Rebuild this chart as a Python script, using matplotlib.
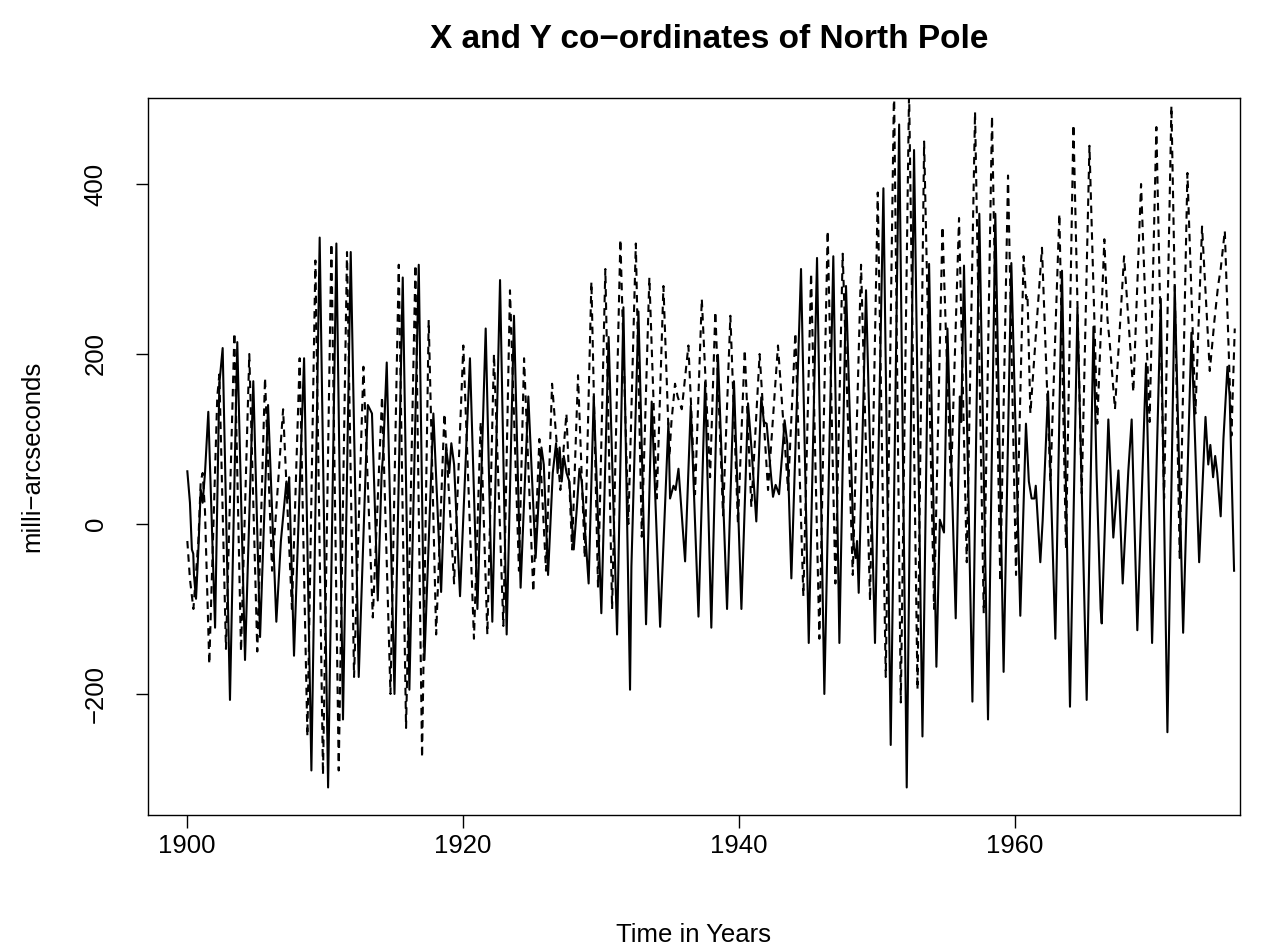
import matplotlib
matplotlib.use("Agg")
import matplotlib.pyplot as plt

# ---- data (turning points of each series) ----
x_years = [1900.02, 1900.21, 1900.35, 1900.45, 1900.50, 1900.65, 1900.82, 1900.99, 1901.13, 1901.30,
           1901.54, 1902.03, 1902.34, 1902.58, 1903.11, 1903.64, 1904.20, 1904.80, 1905.29, 1905.87,
           1906.47, 1906.80, 1907.20, 1907.30, 1907.40, 1907.75, 1908.48, 1909.01, 1909.61, 1910.22,
           1910.82, 1911.30, 1911.86, 1912.44, 1913.10, 1913.40, 1913.82, 1914.10, 1914.20, 1914.47,
           1915.03, 1915.63, 1916.11, 1916.79, 1917.20, 1917.85, 1918.41, 1918.77, 1919.00, 1919.15,
           1919.35, 1919.78, 1920.50, 1921.04, 1921.64, 1922.12, 1922.68, 1923.16, 1923.69, 1924.17,
           1924.73, 1925.26, 1925.45, 1925.68, 1925.85, 1926.16, 1926.50, 1926.74, 1926.85, 1927.00,
           1927.15, 1927.30, 1927.50, 1927.70, 1928.02, 1928.25, 1928.43, 1928.60, 1929.10, 1929.47,
           1930.02, 1930.55, 1931.16, 1931.62, 1932.10, 1932.20, 1932.71, 1933.26, 1933.67, 1934.28,
           1934.88, 1935.00, 1935.25, 1935.40, 1935.61, 1936.09, 1936.50, 1937.06, 1937.54, 1937.99,
           1938.47, 1939.13, 1939.63, 1940.17, 1940.65, 1940.90, 1941.25, 1941.61, 1941.80, 1942.00,
           1942.30, 1942.46, 1942.65, 1942.90, 1943.18, 1943.30, 1943.50, 1943.79, 1944.49, 1945.05,
           1945.65, 1946.18, 1946.83, 1947.27, 1947.75, 1948.30, 1948.45, 1948.55, 1948.67, 1949.00,
           1949.20, 1949.85, 1950.46, 1950.99, 1951.60, 1952.15, 1952.68, 1953.29, 1953.77, 1954.30,
           1954.55, 1954.85, 1955.10, 1955.70, 1956.00, 1956.10, 1956.30, 1956.91, 1957.41, 1958.04,
           1958.57, 1959.17, 1959.73, 1960.38, 1960.79, 1961.00, 1961.20, 1961.40, 1961.50, 1961.83,
           1962.00, 1962.39, 1962.92, 1963.40, 1963.98, 1964.52, 1965.19, 1965.68, 1965.90, 1966.20,
           1966.28, 1966.76, 1967.12, 1967.49, 1967.80, 1968.21, 1968.45, 1968.86, 1969.49, 1969.93,
           1970.56, 1971.04, 1971.57, 1972.18, 1972.78, 1973.34, 1973.80, 1974.00, 1974.15, 1974.35,
           1974.50, 1974.65, 1974.90, 1975.10, 1975.39, 1975.55, 1975.87]
x_coord = [62, 25, -30, -35, -60, -88, -30, 40, 25, 60,
           132, -122, 165, 207, -207, 214, -160, 168, -133, 140,
           -115, -20, 50, 30, 55, -155, 195, -290, 337, -310,
           330, -230, 320, -180, 140, 130, -90, 60, 80, 190,
           -200, 290, -195, 305, -160, 130, -80, 90, 60, 95,
           70, -85, 195, -100, 230, -115, 287, -130, 245, -75,
           150, -40, 20, 90, 70, -60, 60, 95, 60, 90,
           50, 80, 60, 50, -30, 20, 65, 50, -70, 150,
           -105, 220, -130, 255, -195, -50, 250, -118, 144, -121,
           119, 30, 45, 40, 65, -44, 139, -109, 167, -122,
           199, -100, 168, -100, 142, 89, 3, 149, 120, 118,
           60, 32, 46, 35, 94, 122, 94, -64, 300, -140,
           313, -200, 315, -140, 280, -25, -40, -20, -81, 140,
           275, -140, 395, -260, 470, -310, 440, -250, 306, -168,
           5, -10, 230, -111, 150, 120, 304, -209, 365, -230,
           365, -174, 307, -108, 118, 50, 30, 30, 45, -45,
           4, 156, -135, 298, -215, 254, -207, 232, 63, -100,
           -117, 123, -16, 63, -70, 63, 123, -125, 189, -140,
           265, -245, 280, -128, 225, -45, 126, 70, 93, 55,
           80, 60, 9, 100, 185, 150, -55]

y_years = [1900.02, 1900.21, 1900.46, 1900.82, 1900.99, 1901.13, 1901.30, 1901.61, 1902.19, 1902.34,
           1902.82, 1903.43, 1903.91, 1904.51, 1905.09, 1905.65, 1906.16, 1906.96, 1907.60, 1908.16,
           1908.72, 1909.30, 1909.85, 1910.46, 1910.99, 1911.59, 1912.10, 1912.78, 1913.46, 1914.13,
           1914.74, 1915.34, 1915.87, 1916.55, 1917.03, 1917.51, 1918.05, 1918.65, 1919.35, 1920.02,
           1920.79, 1921.28, 1921.76, 1922.24, 1922.92, 1923.40, 1924.05, 1924.42, 1925.09, 1925.53,
           1926.01, 1926.45, 1927.05, 1927.49, 1927.90, 1928.33, 1928.82, 1929.30, 1929.78, 1930.31,
           1930.80, 1931.40, 1931.98, 1932.52, 1932.95, 1933.50, 1934.04, 1934.52, 1934.95, 1935.10,
           1935.36, 1935.55, 1935.85, 1936.33, 1936.81, 1937.30, 1937.90, 1938.28, 1938.84, 1939.37,
           1939.92, 1940.41, 1940.89, 1941.49, 1942.10, 1942.82, 1943.55, 1944.08, 1944.66, 1945.22,
           1945.82, 1946.42, 1946.98, 1947.51, 1948.24, 1948.84, 1949.49, 1950.05, 1950.63, 1951.23,
           1951.72, 1952.32, 1952.93, 1953.41, 1954.13, 1954.74, 1955.35, 1955.94, 1956.50, 1957.10,
           1957.73, 1958.33, 1958.93, 1959.49, 1960.07, 1960.62, 1960.80, 1960.90, 1961.11, 1961.95,
           1962.56, 1963.21, 1963.69, 1964.23, 1964.83, 1965.39, 1965.96, 1966.47, 1966.70, 1966.85,
           1967.24, 1967.90, 1968.57, 1969.13, 1969.75, 1970.24, 1970.80, 1971.33, 1971.93, 1972.49,
           1973.07, 1973.55, 1974.11, 1974.45, 1974.71, 1974.90, 1975.20, 1975.68, 1975.92]
y_coord = [-20, -65, -100, -20, 50, 60, 15, -165, 150, 176,
           -147, 225, -150, 200, -150, 172, -55, 135, -100, 195,
           -250, 310, -295, 330, -290, 320, -180, 185, -110, 150,
           -200, 305, -240, 305, -275, 240, -130, 130, -70, 210,
           -135, 120, -130, 200, -120, 275, -55, 195, -80, 100,
           -55, 165, 40, 130, -30, 175, -40, 285, -75, 300,
           -100, 335, 0, 330, -15, 290, 30, 280, 80, 120,
           165, 150, 135, 210, 35, 265, 55, 250, 10, 245,
           0, 205, 20, 200, 40, 210, 40, 225, -85, 295,
           -135, 345, -70, 318, -60, 305, -90, 390, -180, 515,
           -210, 510, -195, 450, -100, 350, 45, 360, -45, 485,
           -105, 480, -68, 410, -60, 315, 265, 270, 130, 325,
           50, 365, -30, 470, 36, 445, 118, 335, 240, 215,
           135, 315, 155, 400, 120, 467, 30, 492, -40, 413,
           130, 350, 180, 240, 280, 300, 345, 104, 230]

x_ticks = [1900, 1920, 1940, 1960]
y_ticks = [-200, 0, 200, 400]
title = "X and Y co\u2212ordinates of North Pole"
xlabel = "Time in Years"
ylabel = "milli\u2212arcseconds"

# ---- figure ----
plt.rcParams["font.family"] = ["Liberation Sans", "DejaVu Sans"]
W, H = 1278, 952
fig = plt.figure(figsize=(W / 100, H / 100), dpi=100)
L, R, T, B = 148, 1240, 98, 815
ax = fig.add_axes([L / W, 1 - B / H, (R - L) / W, (B - T) / H])

ax.plot(x_years, x_coord, color="black", lw=1.5, solid_joinstyle="round")
ax.plot(y_years, y_coord, color="black", lw=1.5, linestyle=(0, (3.6, 2.8)))

ax.set_xlim(1897.17, 1976.30)
ax.set_ylim(-342.4, 501.2)
ax.set_xticks(x_ticks)
ax.set_yticks(y_ticks)
ax.set_xticklabels([str(v) for v in x_ticks])
ax.set_yticklabels([str(v).replace("-", "\u2212") for v in y_ticks],
                   rotation=90, va="center")
ax.tick_params(axis="both", direction="out", length=9, width=1.0,
               labelsize=18.5, color="black")
ax.tick_params(axis="x", pad=5)
ax.tick_params(axis="y", pad=20)
for s in ax.spines.values():
    s.set_linewidth(1.0)

fig.text(709 / W, 1 - 40 / H, title, ha="center", va="center",
         fontsize=24, fontweight="bold")
fig.text(694 / W, 1 - 935 / H, xlabel, ha="center", va="center", fontsize=18.5)
fig.text(32 / W, 1 - 456 / H, ylabel, ha="center", va="center",
         fontsize=18.5, rotation=90)

fig.savefig("out.png", dpi=100)
